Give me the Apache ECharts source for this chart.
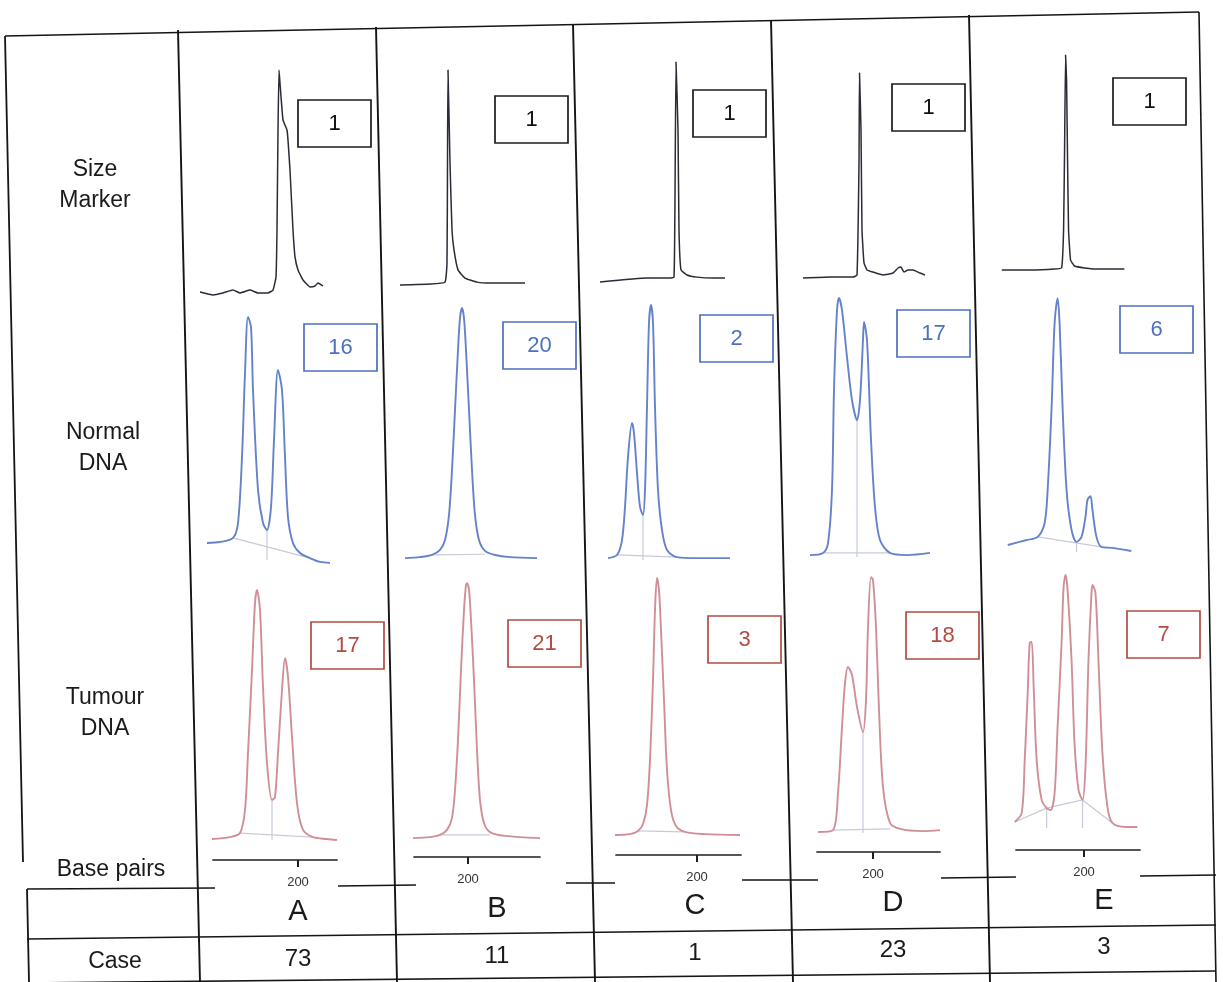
<!DOCTYPE html>
<html>
<head>
<meta charset="utf-8">
<script src="https://cdn.jsdelivr.net/npm/echarts@6/dist/echarts.min.js"></script>
<style>
  html, body { margin: 0; padding: 0; background: #fff; }
  #chart { width: 1223px; height: 982px; }
</style>
</head>
<body>
<div id="chart"></div>
<script>
// ---- Data: electropherogram traces, [base pairs, relative fluorescence] ----
const cases = ['A', 'B', 'C', 'D', 'E'];
const caseNumbers = ['73', '11', '1', '23', '3'];
const rowLabels = [['Size', 'Marker'], ['Normal', 'DNA'], ['Tumour', 'DNA']];
const sizeIds = ['1', '1', '1', '1', '1'];
const normalIds = ['16', '20', '2', '17', '6'];
const tumourIds = ['17', '21', '3', '18', '7'];
const tickValues = [200];
const bpAxisMin = [157.5, 173, 159.5, 172, 166];
const bpAxisMax = [219.5, 236, 222, 233.5, 228];

const sizeA = [[151,0],[157.5,-1.2],[162.5,-0.4],[167.5,0.8],[171,-0.4],[176,0.8],[180,-0.4],[185,-0.4],[187.5,0.8],[189,6.3],[189.5,25.8],[190,67.5],[190.5,92.5],[191,87],[192.5,71.7],[194.5,67.5],[195,63.3],[196,50.8],[197.5,25.8],[198.5,14.6],[200,9.2],[202.5,5],[206,2.1],[208.5,2.5],[210,3.8],[212.5,2.5]];
const sizeB = [[166,0],[181,0.4],[188.5,1.2],[189.5,9.2],[189.75,50.8],[190,89.6],[191,50.8],[192,22.9],[193,14.6],[195,6.3],[198.5,2.9],[204.5,1.2],[211,0.8],[219.5,0.8],[228.5,0.8]];
const sizeC = [[151.5,-0.8],[175,0.8],[186.5,0.8],[188.5,1.2],[189,34.6],[189.5,90.8],[190.5,62.5],[191,20.8],[192,4.2],[195,2.1],[200,1.2],[208,0.8],[214,0.8]];
const sizeD = [[165,0.8],[178.5,1.2],[190,1.2],[192,2.1],[193,48.8],[193.25,86.3],[194,62.5],[194.5,20.8],[195.5,7.1],[197,4.2],[200,3.3],[205,2.1],[210,2.9],[212.5,5],[214,5.4],[215.5,3.3],[217.5,4.2],[220,4.2],[223.5,2.9],[226,2.1]];
const sizeE = [[159,0.8],[173,0.8],[185.5,1.2],[189,1.7],[190,17.5],[190.5,50.8],[191,90.4],[191.5,80],[192,46.7],[192.5,17.5],[193.5,5],[195.5,2.5],[200.5,1.7],[208,1.2],[220.5,1.2]];

const normalA = [[154.5,7.1],[161,7.5],[167.5,9.2],[170,15.4],[172,42.9],[173.5,77.9],[175,101.3],[176.5,97.1],[177.5,70.8],[180,29.2],[182.5,15.4],[184.5,12.5],[186.5,22.1],[188,50],[190,79.2],[192,70.8],[193.5,42.9],[195,17.9],[197.5,7.1],[201,2.9],[206,0.8],[211,-0.8],[216,-1.2]];
const normalB = [[168.5,0.8],[176,1.2],[182,2.1],[186,4.2],[188.5,8.3],[190.5,18.8],[192,37.5],[193.5,62.5],[195,87.5],[196,100.8],[197,105],[198,100.8],[199,87.5],[200.5,62.5],[202,37.5],[203.5,18.8],[205.5,8.3],[208.5,3.8],[213.5,2.1],[221,1.2],[234.5,0.8]];
const normalC = [[155.5,0.8],[160,2.1],[162.5,8.3],[164,22.1],[165.5,42.9],[167.5,57.1],[168.5,52.9],[170,36.3],[171.5,22.1],[173,18.8],[174,29.2],[175,63.8],[176,98.8],[177,106.3],[178,98.8],[179,63.8],[180.5,29.2],[182.5,12.5],[185,4.2],[190,1.2],[200,0.8],[216.5,0.8]];
const normalD = [[168.5,0.8],[175,1.7],[177.5,5.8],[179.5,27.9],[180.5,69.6],[182,102.9],[183,107.9],[184.5,102.9],[187,83.3],[189.5,65.4],[192,57.1],[193.5,65.4],[195,90.4],[195.5,97.9],[197,90.4],[199,48.8],[201,20.8],[203.5,7.1],[208.5,1.7],[217,0.8],[228.5,1.7]];
const normalE = [[162,2.9],[171.5,5],[177,6.3],[180.5,12.1],[182,25.8],[184,60.4],[185.5,95.4],[187,105.8],[188,95.4],[189.5,60.4],[191.5,25.8],[194,9.2],[196.5,4.2],[199,6.3],[201,14.6],[202,21.7],[203.5,23.3],[204.5,17.5],[206.5,6.3],[209,2.1],[214.5,1.7],[224,0.4]];

const tumourA = [[157,0.4],[166,1.2],[171,2.9],[173.5,12.5],[175,36.3],[177,70.8],[178.5,98.8],[179.5,104.2],[181,95.8],[182.5,63.8],[184.5,32.1],[187,16.7],[188.5,17.9],[190,36.3],[192,62.5],[193.5,75.8],[195,67.9],[197,42.9],[199.5,15.4],[202.5,4.2],[207.5,1.2],[214.5,0.4],[219.5,0]];
const tumourB = [[172.5,0.8],[181,1.2],[186,2.1],[189.5,4.2],[192,9.2],[193.5,20.8],[195,41.7],[196.5,70.8],[198,95.8],[199,106.3],[199.5,107],[200.5,104.2],[201.5,91.7],[203,66.7],[204.5,37.5],[206,16.7],[208,7.1],[211,3.3],[218.5,1.7],[236,0.8]];
const tumourC = [[159,0.4],[166.5,0.8],[170.5,2.1],[173,5],[175,12.9],[176.5,31.7],[178,65],[179,94.2],[180,107.5],[181,102.5],[182,85.8],[183.5,56.7],[185,27.5],[187,10.8],[189.5,4.2],[194,1.7],[204,0.8],[221.5,0.4]];
const tumourD = [[172.5,0.4],[180,1.2],[182.5,16.7],[184.5,44.2],[186,62.5],[187.5,69.2],[189.5,65.8],[192,52.5],[195,42.1],[196.5,55.4],[197.5,85.8],[199,106.7],[200,105.4],[201.5,85.8],[203,51.3],[205,19.2],[208.5,4.2],[213.5,1.7],[225,0.8],[233.5,1.2]];
const tumourE = [[165.5,2.5],[169,6.3],[170.5,28.3],[172,56.3],[173,77.1],[174,77.5],[175,58.8],[176.5,28.3],[179,11.7],[181.5,8.3],[183.5,7.5],[185.5,14.6],[187,42.1],[189,77.1],[190,100.4],[191,105.4],[192,99.2],[194,70],[195.5,35.4],[197.5,15.8],[199.5,11.7],[201,25.4],[202.5,70],[204,97.9],[204.5,101.3],[206,97.9],[207.5,70],[209.5,31.3],[212,8.8],[214.5,2.1],[221.5,0.4],[227,0.4]];

// Peak-separation drop lines: [base pairs, valley height]
const valleysNormal = [[[184.5,12.5]], [], [[173,18.8]], [[192,57.1]], [[196.5,4.2]]];
const valleysTumour = [[[187,16.7]], [], [], [[195,42.1]], [[181.5,8.3],[199.5,11.7]]];
// Fitted baselines under the peak clusters
const baseNormal = [[[167.5,9.2],[206,0.8]], [[182,2.1],[208.5,2.4]], [[160,2.1],[190,1.2]], [[175,1.7],[208.5,1.7]], [[177,6.3],[209,2.1]]];
const baseTumour = [[[171,2.9],[207.5,1.2]], [[186,2.1],[211,2.1]], [[170.5,2.1],[194,1.7]], [[180,1.2],[208.5,1.7]], [[165.5,2.5],[181.5,8.3],[199.5,11.7],[214.5,2.1]]];

const sizeTraces = [sizeA, sizeB, sizeC, sizeD, sizeE];
const normalTraces = [normalA, normalB, normalC, normalD, normalE];
const tumourTraces = [tumourA, tumourB, tumourC, tumourD, tumourE];

// ---- Layout ----
const FONT = '"Liberation Sans", Arial, sans-serif';
const tickPx = [298, 468, 697, 873, 1084];          // pixel of 200 bp in each column
const baselinePx = [                                  // trace baseline per row / column
  [292, 285, 280, 280, 272],
  [560, 560, 560, 557, 552],
  [840, 840, 836, 833, 828]
];
const axisLinePx = [860, 857, 855, 852, 850];
const rowColors = ['#2a2b36', '#6483cb', '#d08f97'];
const boxStroke = ['#1c1c1c', '#4e70c0', '#b34b41'];
const boxRects = [
  [[298,100],[495,96],[693,90],[892,84],[1113,78]],
  [[304,324],[503,322],[700,315],[897,310],[1120,306]],
  [[311,622],[508,620],[708,616],[906,612],[1127,611]]
];
const rowIds = [sizeIds, normalIds, tumourIds];
const rowTraces = [sizeTraces, normalTraces, tumourTraces];

const grids = [], xAxes = [], yAxes = [], series = [], graphic = [];
const PX_PER_UNIT = 2.4;

function faint(gi, data) {
  series.push({
    type: 'line', xAxisIndex: gi, yAxisIndex: gi, silent: true,
    data: data, symbol: 'none',
    lineStyle: { color: '#c6cbd9', width: 1.2 }, z: 2
  });
}

for (let r = 0; r < 3; r++) {
  for (let c = 0; c < 5; c++) {
    const gi = grids.length;
    grids.push({
      left: tickPx[c] - 140, width: 280,
      top: baselinePx[r][c] - 110 * PX_PER_UNIT, height: 120 * PX_PER_UNIT
    });
    xAxes.push({ gridIndex: gi, type: 'value', min: 130, max: 270, show: false });
    yAxes.push({ gridIndex: gi, type: 'value', min: -10, max: 110, show: false });
    if (r > 0) {
      const valleys = r === 1 ? valleysNormal[c] : valleysTumour[c];
      const base = r === 1 ? baseNormal[c] : baseTumour[c];
      faint(gi, base);
      valleys.forEach(v => faint(gi, [[v[0], 0], v]));
    }
    series.push({
      type: 'line', xAxisIndex: gi, yAxisIndex: gi,
      data: rowTraces[r][c], symbol: 'none',
      smooth: r === 0 ? 0.12 : 0.3,
      lineStyle: { color: rowColors[r], width: r === 0 ? 1.5 : 1.9 },
      z: 3
    });
    // sample number box
    const [bx, by] = boxRects[r][c];
    graphic.push({
      type: 'rect', shape: { x: bx, y: by, width: 73, height: 47 },
      style: { fill: '#fff', stroke: boxStroke[r], lineWidth: 1.7 }, z: 10
    });
    graphic.push({
      type: 'text', x: bx + 36.5, y: by + 24,
      style: { text: rowIds[r][c], font: '22px ' + FONT, fill: r === 0 ? '#111' : boxStroke[r],
               textAlign: 'center', textVerticalAlign: 'middle' }, z: 11
    });
  }
}

// base-pair axes
for (let c = 0; c < 5; c++) {
  const gi = grids.length;
  const left = tickPx[c] + 2 * (bpAxisMin[c] - 200);
  const right = tickPx[c] + 2 * (bpAxisMax[c] - 200);
  grids.push({ left: left, width: right - left, top: axisLinePx[c] - 10, height: 10 });
  xAxes.push({
    gridIndex: gi, type: 'value', min: bpAxisMin[c], max: bpAxisMax[c],
    axisLine: { show: true, lineStyle: { color: '#1e1e1e', width: 1.7 } },
    axisTick: { show: true, customValues: tickValues, length: 7, lineStyle: { color: '#1e1e1e', width: 2 } },
    axisLabel: { show: true, customValues: tickValues, margin: 16, fontSize: 13, color: '#333', fontFamily: FONT },
    splitLine: { show: false }
  });
  yAxes.push({ gridIndex: gi, type: 'value', min: 0, max: 1, show: false });
}

// table rules
function line(x1, y1, x2, y2, w) {
  graphic.push({ type: 'line', shape: { x1, y1, x2, y2 },
    style: { stroke: '#151515', lineWidth: w || 1.6 }, z: 1, silent: true });
}
line(5, 36, 1199, 12);
line(5, 36, 23, 862, 1.8);
line(178, 30, 200, 982, 1.9);
line(376, 27, 397, 982, 1.9);
line(573, 24, 595, 982, 1.9);
line(771, 20, 793, 982, 1.9);
line(969, 15, 990, 982, 1.9);
line(1199, 12, 1216, 982, 1.6);
line(27, 889, 29, 982, 1.8);
// row separator below the base-pair axis (broken where the axes sit)
[[27, 889, 215, 888], [338, 886, 416, 885], [566, 883, 615, 883],
 [742, 880, 818, 880], [941, 878, 1016, 877], [1140, 876, 1216, 875]].forEach(s => line(s[0], s[1], s[2], s[3]));
line(27, 939, 1216, 925);
line(27, 983, 1216, 971);

// text labels
function label(text, x, y, size) {
  graphic.push({ type: 'text', x, y, z: 12,
    style: { text, font: size + 'px ' + FONT, fill: '#1a1a1a', textAlign: 'center', textVerticalAlign: 'middle' } });
}
const rowLabelY = [[170, 201], [433, 464], [698, 729]];
const rowLabelX = [95, 103, 105];
rowLabels.forEach((lb, i) => {
  label(lb[0], rowLabelX[i], rowLabelY[i][0], 23);
  label(lb[1], rowLabelX[i], rowLabelY[i][1], 23);
});
label('Base pairs', 111, 870, 23);
label('Case', 115, 962, 23);
const letterX = [298, 497, 695, 893, 1104];
const letterY = [912, 909, 906, 903, 901];
const numberY = [959, 956, 953, 950, 947];
cases.forEach((l, i) => label(l, letterX[i], letterY[i], 29));
caseNumbers.forEach((n, i) => label(n, letterX[i], numberY[i], 24));

const chart = echarts.init(document.getElementById('chart'), null, { renderer: 'canvas' });
chart.setOption({
  animation: false,
  backgroundColor: '#ffffff',
  grid: grids,
  xAxis: xAxes,
  yAxis: yAxes,
  series: series,
  graphic: graphic
});
</script>
</body>
</html>
